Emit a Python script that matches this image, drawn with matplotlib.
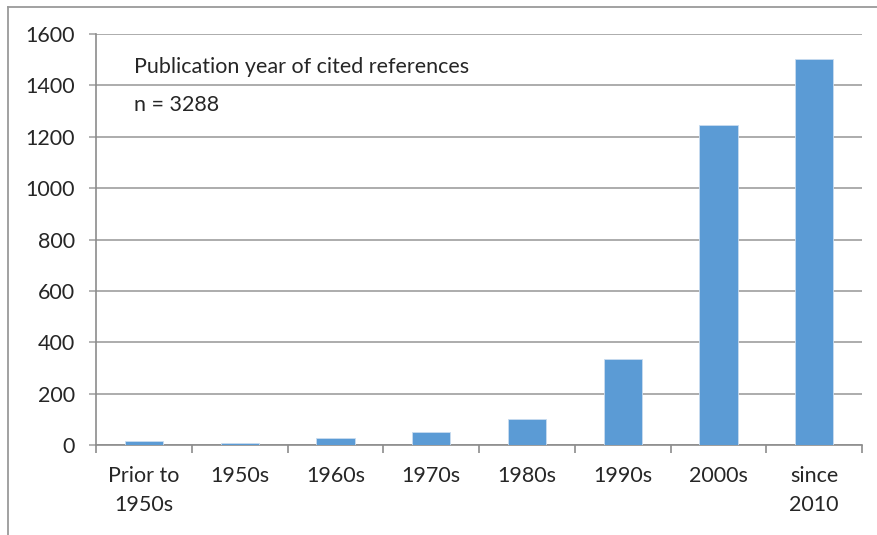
import matplotlib
matplotlib.use("Agg")
import matplotlib.pyplot as plt
import numpy as np

# Data
categories = ["Prior to\n1950s", "1950s", "1960s", "1970s", "1980s", "1990s", "2000s", "since\n2010"]
counts = [15, 6, 29, 52, 103, 334, 1246, 1503]
y_ticks = [0, 200, 400, 600, 800, 1000, 1200, 1400, 1600]

plt.rcParams['font.family'] = ['Lato', 'DejaVu Sans']
FS = 15.5

fig = plt.figure(figsize=(8.77, 5.35), dpi=100)
ax = fig.add_axes([0.1095, 0.1682, 0.8735, 0.7682])

x = np.arange(len(categories))
ax.bar(x, counts, width=0.4, color="#5b9bd5", edgecolor="#c9dcef", linewidth=0.6, zorder=3)

ax.set_xlim(-0.5, len(categories) - 0.5)
ax.set_ylim(0, 1600)
ax.set_yticks(y_ticks)
ax.set_yticklabels([str(v) for v in y_ticks], fontsize=FS, color="#262626")
ax.yaxis.grid(True, color="#a6a6a6", linewidth=1.3, zorder=0)

# category labels centred, ticks at the boundaries
ax.set_xticks(x)
ax.set_xticklabels(categories, fontsize=FS, color="#262626", linespacing=1.6, va="top")
ax.tick_params(axis="x", which="major", length=0, pad=15)
ax.set_xticks(np.arange(len(categories) + 1) - 0.5, minor=True)
ax.tick_params(axis="x", which="minor", length=6, color="#8c8c8c", width=1.2, direction="out")
ax.tick_params(axis="y", length=5, color="#a6a6a6", width=1.2, pad=10)

for side in ["top", "right"]:
    ax.spines[side].set_visible(False)
ax.spines["left"].set_color("#8c8c8c")
ax.spines["left"].set_linewidth(1.2)
ax.spines["bottom"].set_color("#8c8c8c")
ax.spines["bottom"].set_linewidth(1.2)

ax.text(0.05, 0.92, "Publication year of cited references", transform=ax.transAxes,
        fontsize=FS, color="#262626", va="center")
ax.text(0.05, 0.827, "n = 3288", transform=ax.transAxes,
        fontsize=FS, color="#262626", va="center")

# outer chart frame (top and left edges visible)
fig.add_artist(plt.Line2D([8 / 877, 1], [1 - 7 / 535, 1 - 7 / 535], transform=fig.transFigure,
                          color="#9a9a9a", linewidth=1.3))
fig.add_artist(plt.Line2D([8 / 877, 8 / 877], [0, 1 - 7 / 535], transform=fig.transFigure,
                          color="#9a9a9a", linewidth=1.3))

fig.savefig("out.png", dpi=100)
